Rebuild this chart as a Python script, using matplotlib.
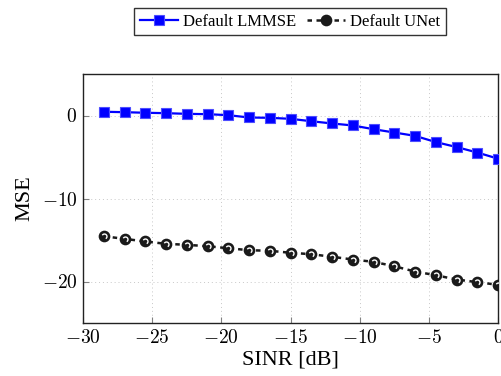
import matplotlib
matplotlib.use("Agg")
from matplotlib import pyplot as plt
from matplotlib.path import Path
import numpy as np

# SINR sweep (dB)
sinr = [-28.5, -27, -25.5, -24, -22.5, -21, -19.5, -18, -16.5, -15,
        -13.5, -12, -10.5, -9, -7.5, -6, -4.5, -3, -1.5, 0]

# MSE curves (dB)
mse_lmmse = [0.45, 0.40, 0.33, 0.28, 0.20, 0.16, 0.04, -0.24, -0.28, -0.40,
             -0.69, -0.96, -1.20, -1.65, -2.05, -2.45, -3.20, -3.80, -4.46, -5.20]
mse_unet = [-14.55, -14.86, -15.18, -15.46, -15.58, -15.75, -15.99, -16.23, -16.30, -16.54,
            -16.71, -17.02, -17.35, -17.63, -18.16, -18.80, -19.24, -19.76, -20.08, -20.40]

xticks = [-30, -25, -20, -15, -10, -5, 0]
yticks = [-20, -10, 0]

plt.rcParams['font.family'] = ['Liberation Serif', 'DejaVu Serif']
plt.rcParams['mathtext.fontset'] = 'cm'

fig = plt.figure(figsize=(5.01, 3.76), dpi=100)
ax = fig.add_axes([83 / 501, 53 / 376, 415 / 501, 249 / 376])

ax.plot(sinr, mse_lmmse, color='#0000ff', lw=1.6, marker='s', markersize=7.8,
        markerfacecolor='#0000ff', markeredgecolor='#4d4dff', markeredgewidth=0.8,
        label='Default LMMSE', zorder=3)
ax.plot(sinr, mse_unet, color='#1a1a1a', lw=1.8, dashes=(1.8, 1.8), marker='o',
        markersize=7.2, markerfacecolor='#1a1a1a', markeredgecolor='#1a1a1a',
        markeredgewidth=1.2, label='Default UNet', zorder=3)

# white dashed-outline look inside the UNet marks
arc = Path.arc(-60, 150)
ax.plot(sinr, mse_unet, linestyle='none', marker=arc, markersize=3.6,
        markerfacecolor='none', markeredgecolor='white', markeredgewidth=1.0,
        zorder=4)

ax.set_xlim(-30, 0)
ax.set_ylim(-25, 5)
ax.set_xticks(xticks)
ax.set_yticks(yticks)
ax.set_xticklabels([r'$\mathrm{%d}$' % v for v in xticks])
ax.set_yticklabels([r'$\mathrm{%d}$' % v for v in yticks])
ax.tick_params(direction='in', length=4, width=0.8, color='#808080',
               labelsize=14, pad=4)
ax.grid(True, linestyle=(0, (1, 3)), color='#c8c8c8', linewidth=0.7)
for s in ax.spines.values():
    s.set_linewidth(1.0)
    s.set_color('#222222')

ax.set_xlabel('SINR [dB]', fontsize=16, labelpad=3)
ax.set_ylabel('MSE', fontsize=16, labelpad=5)

fig.legend(loc='center', bbox_to_anchor=(290 / 501, 1 - 21.5 / 376), ncol=2,
           fontsize=12, frameon=True, fancybox=False, edgecolor='#333333',
           handlelength=2.3, handletextpad=0.3, columnspacing=0.6,
           borderpad=0.35, framealpha=1)

fig.savefig('out.png', dpi=100)
